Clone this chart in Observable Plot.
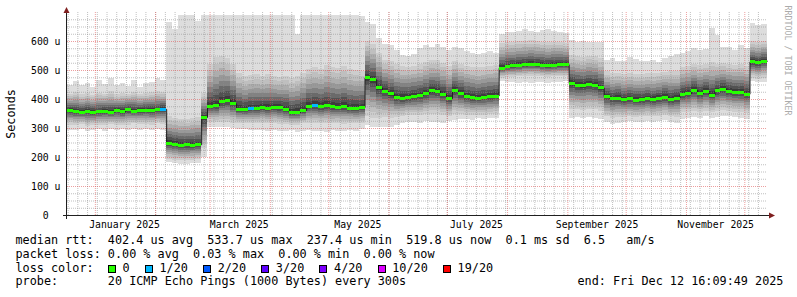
<!DOCTYPE html>
<html><head><meta charset="utf-8">
<script src="https://cdn.jsdelivr.net/npm/d3@7"></script>
<script src="https://cdn.jsdelivr.net/npm/@observablehq/plot@0.6"></script>
<style>
html,body{margin:0;padding:0;background:#fff;}
#chart{width:797px;height:297px;position:relative;overflow:hidden;background:#fff;}
#chart svg{display:block;}
.legend{position:relative;width:797px;height:65px;font-family:'DejaVu Sans Mono',monospace;font-size:11.8px;color:#000;}
.legend .ln{position:absolute;height:13.7px;line-height:13.7px;white-space:pre;}
.box{position:absolute;width:6px;height:6px;border:1px solid #000;}
</style></head><body><div id="chart"></div><script>
// ---------- data ----------
const endTime = new Date(Date.UTC(2025, 11, 12, 16, 9, 49));
const binDays = 3;           // each value covers 3 days, 120 bins = 360 days
const medianUs = [
 362,358,356,358,355,357,360,356,362,358,
 364,360,362,363,362,364,366,248,246,242,
 244,243,244,338,376,378,392,396,385,366,
 364,368,368,372,370,372,371,366,355,356,
 362,377,379,376,378,375,374,376,370,368,
 372,475,468,440,428,420,407,405,407,410,
 414,420,430,428,418,403,430,420,410,406,
 405,408,410,412,508,514,516,518,520,522,
 520,518,516,518,520,520,455,450,448,452,
 450,440,410,402,405,400,402,398,400,403,
 400,404,408,400,404,418,420,432,420,428,
 415,430,436,428,425,424,418,530,527,532];
const maxUs = [
 448,462,450,456,442,464,452,472,450,456,
 446,466,442,454,460,472,464,665,640,690,
 690,688,670,690,690,690,690,690,690,690,
 690,690,690,690,690,690,690,690,690,625,
 690,690,690,690,690,690,690,690,690,688,
 685,665,660,610,590,585,570,552,548,556,
 575,585,580,588,578,570,580,575,565,560,
 555,560,565,558,625,632,630,635,640,636,
 632,638,640,635,630,628,602,598,600,596,
 598,595,535,540,530,532,545,538,532,530,
 535,528,540,548,555,560,565,575,568,572,
 645,620,578,580,570,585,575,662,655,660];
const minUs = [
 294,292,296,290,293,295,291,296,293,295,
 292,296,294,296,293,296,294,182,178,176,
 175,178,180,200,304,302,305,302,300,298,
 296,294,292,292,290,294,290,288,292,286,
 290,292,288,290,286,292,288,290,292,290,
 295,310,305,305,302,304,310,318,322,320,
 318,325,322,320,316,325,328,330,332,328,
 334,330,336,334,462,460,458,456,458,455,
 458,460,456,458,460,462,336,338,335,338,
 336,332,320,315,318,322,325,320,322,325,
 320,324,326,322,318,330,335,338,335,340,
 336,338,340,342,338,336,330,462,458,460];
const hiUs = [
 418,424,416,420,414,422,418,426,416,420,
 418,424,418,420,424,426,424,340,335,332,
 330,335,338,420,520,545,550,540,520,490,
 478,482,486,480,485,480,476,480,472,480,
 490,505,510,505,518,512,508,515,505,500,
 495,600,590,560,535,530,520,515,512,515,
 520,528,535,535,525,515,530,522,515,512,
 510,512,515,518,592,596,598,600,600,602,
 600,598,596,598,596,594,552,548,546,550,
 548,540,495,488,490,486,488,485,486,488,
 488,490,494,496,495,512,515,522,518,520,
 528,522,525,520,518,520,515,600,595,600];
const loUs = [
 312,310,314,308,310,312,309,314,310,312,
 312,316,314,314,312,316,314,194,190,188,
 188,190,192,230,322,320,322,320,318,318,
 318,318,316,318,316,318,315,314,312,312,
 316,318,318,316,318,316,318,315,318,316,
 318,340,335,335,338,336,338,340,345,345,
 344,348,350,350,346,340,350,348,346,345,
 346,346,348,350,474,476,476,478,480,480,
 480,478,476,478,478,478,366,364,362,365,
 364,360,340,336,338,338,340,338,340,342,
 340,342,344,340,338,355,356,360,356,360,
 354,358,362,360,356,356,352,474,470,474];
const lossOf20 = [
 0,0,0,0,0,0,0,0,0,0, 0,0,0,0,0,0,1,0,0,0,
 0,0,0,0,0,0,0,0,0,0, 0,1,0,0,0,0,0,0,0,0,
 0,0,1,0,0,0,0,0,0,0, 0,0,0,0,0,0,0,0,0,0,
 0,0,0,0,0,0,0,0,0,0, 0,0,0,0,0,0,0,0,0,0,
 0,0,0,0,0,0,0,0,0,0, 0,0,0,0,0,0,0,0,0,0,
 0,0,0,0,0,0,0,0,0,0, 0,0,0,0,0,0,0,0,0,0];
const lossLabels = ["0","1/20","2/20","3/20","4/20","10/20","19/20"];
const lossThresholds = [0,1,2,3,4,10,19];
const lossColors = ["#26ff00","#00b8ff","#0059ff","#5e00ff","#7e00ff","#dd00ff","#ff0000"];
const yTicks = [0,100,200,300,400,500,600];
const yTickLabels = ["0\u00a0\u00a0","100 u","200 u","300 u","400 u","500 u","600 u"];
const xTickMonths = [Date.UTC(2025,0,1),Date.UTC(2025,2,1),Date.UTC(2025,4,1),Date.UTC(2025,6,1),Date.UTC(2025,8,1),Date.UTC(2025,10,1)];
const xTickLabels = ["January 2025","March 2025","May 2025","July 2025","September 2025","November 2025"];
const statsLine1 = "median rtt:  402.4 us avg  533.7 us max  237.4 us min  519.8 us now  0.1 ms sd  6.5   am/s";
const statsLine2 = "packet loss: 0.00 % avg  0.03 % max  0.00 % min  0.00 % now";
const lossTitle = "loss color:";
const probeLine = "probe:       20 ICMP Echo Pings (1000 Bytes) every 300s";
const endLine = "end: Fri Dec 12 16:09:49 2025";

// ---------- derived tables ----------
const DAY = 864e5;
const startTime = new Date(+endTime - medianUs.length * binDays * DAY);
const bins = medianUs.map((m, i) => ({
  t0: new Date(+startTime + i * binDays * DAY),
  t1: new Date(+startTime + (i + 1) * binDays * DAY),
  med: m, min: minUs[i], lo: loUs[i], hi: hiUs[i], max: maxUs[i], loss: lossOf20[i]
}));
function lossColor(n){ let c = lossColors[0]; lossThresholds.forEach((t,k)=>{ if (n >= t) c = lossColors[k]; }); return c; }
// smoke shading: outer envelope, then nested bands from lo/hi toward the median
const shades = [
  {f:1.00, fill:"#cdcdcd"}, {f:0.86, fill:"#bfbfbf"}, {f:0.72, fill:"#adadad"},
  {f:0.58, fill:"#999999"}, {f:0.45, fill:"#828282"}, {f:0.33, fill:"#6a6a6a"},
  {f:0.21, fill:"#525252"}, {f:0.10, fill:"#3c3c3c"}];
const smoke = [];
bins.forEach(b => {
  smoke.push({t0:b.t0, t1:b.t1, y1:b.min, y2:b.max, fill:"#dddddd"});
  shades.forEach(l => smoke.push({t0:b.t0, t1:b.t1, y1:b.med - (b.med - b.lo) * l.f, y2:b.med + (b.hi - b.med) * l.f, fill:l.fill}));
});
const stepPts = bins.map(b => ({t:b.t0, v:b.med})).concat([{t:endTime, v:bins[bins.length-1].med}]);
const minorY = d3.range(25, 700, 25).filter(v => v % 100 !== 0);
const majorY = d3.range(100, 700, 100);
const minorX = d3.utcDay.range(startTime, endTime).filter(d => Math.floor(+d / DAY) % 5 === 0);
const majorX = d3.utcMonth.range(startTime, endTime);
const xTickDates = xTickMonths.map(m => new Date(m + 15 * DAY));

const gridMinor = "rgba(140,140,140,0.55)";
const gridMajor = "rgba(222,80,80,0.55)";

const plot = Plot.plot({
  width: 797, height: 232,
  marginLeft: 67, marginRight: 30, marginTop: 12, marginBottom: 17,
  style: {fontFamily: "'DejaVu Sans Mono', monospace", fontSize: "9.8px", background: "#fff", color: "#000", overflow: "visible"},
  x: {type: "utc", domain: [startTime, endTime]},
  y: {domain: [0, 700]},
  color: {type: "identity"},
  marks: [
    Plot.rect(smoke, {x1: "t0", x2: "t1", y1: "y1", y2: "y2", fill: "fill", shapeRendering: "crispEdges"}),
    Plot.ruleY(minorY, {stroke: gridMinor, strokeDasharray: "1,1"}),
    Plot.ruleX(minorX, {stroke: gridMinor, strokeDasharray: "1,1"}),
    Plot.ruleY(majorY, {stroke: gridMajor, strokeDasharray: "1,1"}),
    Plot.ruleX(majorX, {stroke: gridMajor, strokeDasharray: "1,1"}),
    Plot.line(stepPts, {x: "t", y: "v", curve: "step-after", stroke: "#202020", strokeWidth: 1}),
    Plot.ruleY(bins, {y: "med", x1: "t0", x2: "t1", stroke: d => lossColor(d.loss), strokeWidth: 3, shapeRendering: "crispEdges"}),
    Plot.axisY(yTicks, {tickSize: 0, tickPadding: 7, label: null, fontSize: 9.8,
      tickFormat: d => yTickLabels[yTicks.indexOf(d)]}),
    Plot.axisX(xTickDates, {tickSize: 0, tickPadding: 6, label: null, fontSize: 9.8,
      tickFormat: d => xTickLabels[xTickDates.findIndex(t => +t === +d)]}),
    Plot.text(["Seconds"], {frameAnchor: "left", dx: -56, rotate: -90, fontSize: 11.8, fill: "#000", textAnchor: "middle", lineAnchor: "middle"}),
    Plot.text(["RRDTOOL / TOBI OETIKER"], {frameAnchor: "top-right", dx: 20, dy: 48, rotate: 90, fontSize: 8.3, fill: "#ababab", textAnchor: "middle", lineAnchor: "middle"})
  ]
});

// axes lines and arrows
const sx = plot.scale("x"), sy = plot.scale("y");
const X0 = Math.round(sx.apply(startTime)), X1 = Math.round(sx.apply(endTime));
const Y0 = Math.round(sy.apply(0)), YT = Math.round(sy.apply(700));
const g = d3.select(plot).append("g");
g.append("line").attr("x1", X0 - 0.5).attr("x2", X0 - 0.5).attr("y1", Y0 + 4).attr("y2", YT + 1).attr("stroke", "#202020");
g.append("line").attr("x1", X0 - 4).attr("x2", X1 + 3).attr("y1", Y0 + 0.5).attr("y2", Y0 + 0.5).attr("stroke", "#202020");
g.append("path").attr("d", `M${X0-3.5},${YT+1}L${X0+2.5},${YT+1}L${X0-0.5},${YT-5}Z`).attr("fill", "#7f1f1f");
g.append("path").attr("d", `M${X1+2},${Y0-2.5}L${X1+2},${Y0+3.5}L${X1+8},${Y0+0.5}Z`).attr("fill", "#7f1f1f");

const chart = document.getElementById("chart");
chart.appendChild(plot);

// legend below the svg (monospace grid: measure one character cell)
const leg = document.createElement("div");
leg.className = "legend";
chart.appendChild(leg);
const cv = document.createElement("canvas").getContext("2d");
cv.font = "11.8px 'DejaVu Sans Mono'";
const cw = cv.measureText("0").width;
const left0 = 15.5;
const tops = [2.35, 16.05, 29.75, 43.45];
function line(top, left, txt){ const d = document.createElement("div"); d.className = "ln"; d.style.top = top + "px"; d.style.left = left + "px"; d.textContent = txt; leg.appendChild(d); return d; }
line(tops[0], left0, statsLine1);
line(tops[1], left0, statsLine2);
line(tops[2], left0, lossTitle);
let cx = left0 + 13 * cw;
lossLabels.forEach((lab, k) => {
  const bx = document.createElement("div"); bx.className = "box";
  bx.style.background = lossColors[k];
  bx.style.left = cx + "px"; bx.style.top = (tops[2] + 2.9) + "px";
  leg.appendChild(bx);
  line(tops[2], cx + 14.7, lab);
  cx += 14.7 + lab.length * cw + 15.1;
});
line(tops[3], left0, probeLine);
line(tops[3], 577.5, endLine);
</script></body></html>
